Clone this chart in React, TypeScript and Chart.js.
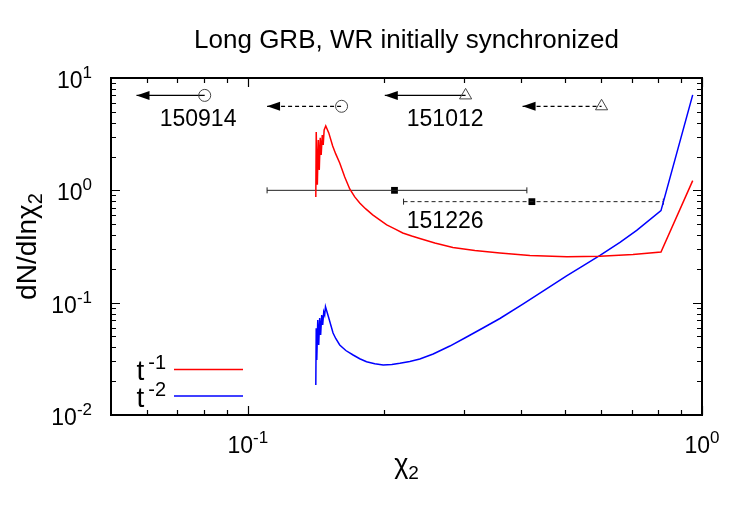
import React, { useEffect, useRef } from 'react';
import { Chart, registerables } from 'chart.js';

Chart.register(...registerables);

const TITLE = 'Long GRB, WR initially synchronized';
const X_MIN = 0.05;
const X_MAX = 1;
const Y_MIN = 0.01;
const Y_MAX = 10;

const X_MAJOR = [0.1, 1];
const X_MINOR = [0.06, 0.07, 0.08, 0.09, 0.2, 0.3, 0.4, 0.5, 0.6, 0.7, 0.8, 0.9];
const X_TICK_LABELS = ['-1', '0'];
const Y_MAJOR = [0.01, 0.1, 1, 10];
const Y_MINOR = [
  0.02, 0.03, 0.04, 0.05, 0.06, 0.07, 0.08, 0.09,
  0.2, 0.3, 0.4, 0.5, 0.6, 0.7, 0.8, 0.9,
  2, 3, 4, 5, 6, 7, 8, 9,
];
const Y_TICK_LABELS = ['-2', '-1', '0', '1'];

// t^-1 (red)
const redX = [
  0.1412, 0.1415, 0.1423, 0.143, 0.1437, 0.1444, 0.1451, 0.1459, 0.1466, 0.1473, 0.1485,
  0.1508, 0.1538, 0.1562, 0.1594, 0.1635, 0.1677, 0.172, 0.1764, 0.1819, 0.1884, 0.1952,
  0.2023, 0.2107, 0.2194, 0.2296, 0.2392, 0.2581, 0.2829, 0.3162, 0.359, 0.418, 0.5043,
  0.5963, 0.7047, 0.8123, 0.954,
];
const redY = [
  0.874, 3.31, 1.12, 2.81, 1.52, 2.93, 2.07, 3.11, 2.54, 3.45, 3.745,
  3.245, 2.485, 2.11, 1.754, 1.316, 1.029, 0.8735, 0.7723, 0.683, 0.604, 0.5451,
  0.492, 0.4532, 0.4175, 0.3926, 0.373, 0.3401, 0.3101, 0.2917, 0.277, 0.2633, 0.2568,
  0.2595, 0.2687, 0.2829, 1.22,
];

// t^-2 (blue)
const blueX = [
  0.1412, 0.1415, 0.1419, 0.1426, 0.1433, 0.144, 0.1447, 0.1455, 0.1462, 0.147, 0.1477, 0.1483,
  0.1508, 0.1541, 0.1562, 0.1594, 0.1644, 0.1706, 0.1764, 0.1826, 0.1904, 0.1987, 0.2076,
  0.2162, 0.2274, 0.2392, 0.256, 0.2786, 0.3033, 0.3294, 0.359, 0.4041, 0.4511, 0.5034,
  0.5469, 0.5963, 0.6598, 0.7182, 0.8123, 0.954,
];
const blueY = [
  0.0185, 0.0592, 0.0309, 0.0701, 0.042, 0.0731, 0.0516, 0.0777, 0.0633, 0.0826, 0.0777, 0.0921,
  0.0731, 0.0537, 0.048, 0.042, 0.0375, 0.0342, 0.0317, 0.0298, 0.0286, 0.0279, 0.0282,
  0.0289, 0.03, 0.0315, 0.0349, 0.0411, 0.0495, 0.0595, 0.0723, 0.0974, 0.1297, 0.1729,
  0.2122, 0.2633, 0.3436, 0.4395, 0.6596, 7.07,
];

const SERIES_SUP = ['-1', '-2'];
const SERIES_COLORS = ['#ff0000', '#0000ff'];

// horizontal error bars
const BAR_X = [0.2104, 0.4222];
const BAR_LO = [0.1103, 0.2203];
const BAR_HI = [0.4116, 0.822];
const BAR_Y = [1.0, 0.793];
const BAR_DASHED = [false, true];

// upper-limit arrows
const ARROW_FROM = [0.0804, 0.1609, 0.3017, 0.601];
const ARROW_TO = [0.0569, 0.1103, 0.2003, 0.4027];
const ARROW_Y = [7.0, 5.6, 7.0, 5.6];
const ARROW_MARK = ['circle', 'circle', 'triangle', 'triangle'];
const ARROW_DASHED = [false, true, false, true];

// text labels
const NOTE_TEXT = ['150914', '151012', '151226'];
const NOTE_X = [0.064, 0.2239, 0.2239];
const NOTE_Y = [3.77, 3.77, 0.46];

const FONT = '"Liberation Sans", Arial, Helvetica, sans-serif';

function drawSup(ctx: CanvasRenderingContext2D, base: string, sup: string, x: number, y: number,
  align: string, size = 23, supSize = 17, raise = 10, gap = 0) {
  ctx.font = `${size}px ${FONT}`;
  const wb = ctx.measureText(base).width + gap;
  ctx.font = `${supSize}px ${FONT}`;
  const ws = ctx.measureText(sup).width;
  const total = wb + ws;
  const sx = align === 'center' ? x - total / 2 : align === 'right' ? x - total : x;
  ctx.textAlign = 'left';
  ctx.textBaseline = 'alphabetic';
  ctx.font = `${size}px ${FONT}`;
  ctx.fillText(base, sx, y);
  ctx.font = `${supSize}px ${FONT}`;
  ctx.fillText(sup, sx + wb, y - raise);
}

function drawSub(ctx: CanvasRenderingContext2D, base: string, sub: string, x: number, y: number,
  size = 27, subSize = 19, drop = 6) {
  ctx.font = `${size}px ${FONT}`;
  const wb = ctx.measureText(base).width;
  ctx.font = `${subSize}px ${FONT}`;
  const ws = ctx.measureText(sub).width;
  const sx = x - (wb + ws) / 2;
  ctx.textAlign = 'left';
  ctx.textBaseline = 'alphabetic';
  ctx.font = `${size}px ${FONT}`;
  ctx.fillText(base, sx, y);
  ctx.font = `${subSize}px ${FONT}`;
  ctx.fillText(sub, sx + wb, y + drop);
}

const arrowPlugin = {
  id: 'arrowHeads',
  afterDatasetsDraw(chart: any) {
    const ctx = chart.ctx as CanvasRenderingContext2D;
    ctx.save();
    chart.data.datasets.forEach((ds: any, i: number) => {
      if (!ds.arrowHead) return;
      const meta = chart.getDatasetMeta(i);
      const p = meta.data[0];
      ctx.fillStyle = '#000';
      ctx.beginPath();
      ctx.moveTo(p.x, p.y);
      ctx.lineTo(p.x + 13, p.y - 4.5);
      ctx.lineTo(p.x + 13, p.y + 4.5);
      ctx.closePath();
      ctx.fill();
    });
    ctx.restore();
  },
};

const decorPlugin = {
  id: 'decor',
  afterDraw(chart: any) {
    const ctx = chart.ctx as CanvasRenderingContext2D;
    const a = chart.chartArea;
    const xs = chart.scales.x;
    const ys = chart.scales.y;
    ctx.save();
    ctx.strokeStyle = '#000';
    ctx.fillStyle = '#000';
    // ticks
    ctx.lineWidth = 1.2;
    ctx.beginPath();
    const tick = (vals: number[], len: number) => {
      vals.forEach((v) => {
        const px = Math.round(xs.getPixelForValue(v)) + 0.5;
        ctx.moveTo(px, a.bottom);
        ctx.lineTo(px, a.bottom - len);
        ctx.moveTo(px, a.top);
        ctx.lineTo(px, a.top + len);
      });
    };
    const ytick = (vals: number[], len: number) => {
      vals.forEach((v) => {
        const py = Math.round(ys.getPixelForValue(v)) + 0.5;
        ctx.moveTo(a.left, py);
        ctx.lineTo(a.left + len, py);
        ctx.moveTo(a.right, py);
        ctx.lineTo(a.right - len, py);
      });
    };
    tick(X_MAJOR, 9);
    tick(X_MINOR, 5);
    ytick(Y_MAJOR, 9);
    ytick(Y_MINOR, 5);
    ctx.stroke();
    // frame
    ctx.lineWidth = 2;
    ctx.strokeRect(a.left, a.top, a.right - a.left, a.bottom - a.top);

    // tick labels
    X_MAJOR.forEach((v, i) => {
      drawSup(ctx, '10', X_TICK_LABELS[i], xs.getPixelForValue(v), a.bottom + 38, 'center');
    });
    Y_MAJOR.forEach((v, i) => {
      drawSup(ctx, '10', Y_TICK_LABELS[i], a.left - 19, ys.getPixelForValue(v) + 10, 'right');
    });

    // title
    const cx = (a.left + a.right) / 2;
    ctx.font = `26px ${FONT}`;
    ctx.textAlign = 'center';
    ctx.textBaseline = 'alphabetic';
    ctx.fillText(TITLE, cx, 48);

    // axis titles
    drawSub(ctx, 'χ', '2', cx, a.bottom + 58);
    ctx.save();
    ctx.translate(36, (a.top + a.bottom) / 2);
    ctx.rotate(-Math.PI / 2);
    drawSub(ctx, 'dN/dlnχ', '2', 0, 0, 28, 20, 6);
    ctx.restore();

    // notes
    ctx.font = `23px ${FONT}`;
    ctx.textAlign = 'left';
    NOTE_TEXT.forEach((t, i) => {
      ctx.fillText(t, xs.getPixelForValue(NOTE_X[i]), ys.getPixelForValue(NOTE_Y[i]));
    });

    // legend
    SERIES_SUP.forEach((s, i) => {
      const by = a.bottom - 35 + i * 26.5;
      drawSup(ctx, 't', s, a.left + 55, by, 'right', 28, 20, 11, 4);
      ctx.strokeStyle = SERIES_COLORS[i];
      ctx.lineWidth = 1.5;
      ctx.beginPath();
      ctx.moveTo(a.left + 63, by - 10.5);
      ctx.lineTo(a.left + 132, by - 10.5);
      ctx.stroke();
    });
    ctx.restore();
  },
};

function pts(xv: number[], yv: number[]) {
  return xv.map((x, i) => ({ x, y: yv[i] }));
}

export default function App() {
  const ref = useRef<HTMLCanvasElement | null>(null);
  useEffect(() => {
    if (!ref.current) return;
    const datasets: any[] = [
      {
        label: 't^-1', data: pts(redX, redY), borderColor: SERIES_COLORS[0], borderWidth: 1.5,
        pointRadius: 0, fill: false, tension: 0,
      },
      {
        label: 't^-2', data: pts(blueX, blueY), borderColor: SERIES_COLORS[1], borderWidth: 1.5,
        pointRadius: 0, fill: false, tension: 0,
      },
    ];
    BAR_X.forEach((bx, i) => {
      datasets.push({
        label: 'bar' + i,
        data: [{ x: BAR_LO[i], y: BAR_Y[i] }, { x: BAR_HI[i], y: BAR_Y[i] }],
        borderColor: '#222', borderWidth: 1, borderDash: BAR_DASHED[i] ? [4, 3] : [],
        pointStyle: 'line', pointRotation: 90, pointRadius: 3, pointBorderColor: '#222',
        pointBorderWidth: 1, fill: false,
      });
      datasets.push({
        label: 'center' + i,
        data: [{ x: bx, y: BAR_Y[i] }],
        showLine: false, pointStyle: 'rect', pointRadius: 4.8, pointBackgroundColor: '#000',
        pointBorderColor: '#000', pointBorderWidth: 0,
      });
    });
    ARROW_FROM.forEach((fx, i) => {
      const r = ARROW_MARK[i] === 'circle' ? 6 : 7;
      datasets.push({
        label: 'arrow' + i,
        arrowHead: true,
        data: [{ x: ARROW_TO[i], y: ARROW_Y[i] }, { x: fx, y: ARROW_Y[i] }],
        borderColor: '#000', borderWidth: 1.2, borderDash: ARROW_DASHED[i] ? [4, 3] : [],
        pointStyle: ARROW_MARK[i], pointRadius: [0, r], pointBackgroundColor: 'rgba(255,255,255,0)',
        pointBorderColor: '#444', pointBorderWidth: 1, fill: false,
      });
    });

    const chart = new Chart(ref.current, {
      type: 'line',
      data: { datasets },
      options: {
        animation: false,
        responsive: false,
        events: [],
        layout: { padding: { left: 111, right: 48, top: 78, bottom: 110 } },
        plugins: { legend: { display: false }, title: { display: false }, tooltip: { enabled: false } },
        scales: {
          x: { type: 'logarithmic', min: X_MIN, max: X_MAX, display: false },
          y: { type: 'logarithmic', min: Y_MIN, max: Y_MAX, display: false },
        },
      } as any,
      plugins: [arrowPlugin, decorPlugin],
    });
    return () => chart.destroy();
  }, []);
  return (
    <div style={{ position: 'fixed', left: 0, top: 0, width: 750, height: 525, background: '#fff' }}>
      <canvas ref={ref} width={750} height={525} />
    </div>
  );
}
